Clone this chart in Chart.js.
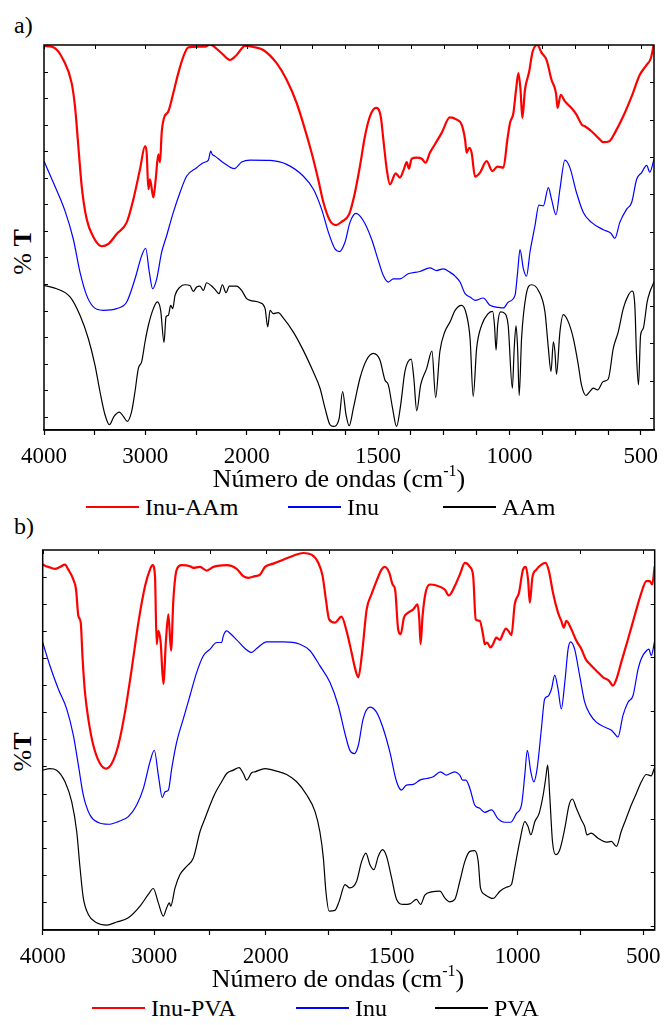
<!DOCTYPE html>
<html>
<head>
<meta charset="utf-8">
<script src="https://cdn.jsdelivr.net/npm/chart.js@4.4.1/dist/chart.umd.min.js"></script>
<style>
  body { margin: 0; width: 664px; height: 1025px; background: #fff; position: relative; overflow: hidden;
         font-family: "Liberation Serif", "Times New Roman", serif; color: #000; }
  .panel { position: absolute; left: 0; width: 664px; height: 470px; }
  .txt { position: absolute; white-space: nowrap; line-height: 1; }
  .ylab { position: absolute; white-space: nowrap; line-height: 1; font-size: 26px; transform: translate(-50%, -50%) rotate(-90deg); }
  .xlab { position: absolute; white-space: nowrap; line-height: 1; font-size: 26px; transform: translateX(-50%); }
  .xlab sup { font-size: 16px; vertical-align: 11px; line-height: 0; }
  .leg { position: absolute; display: flex; align-items: center; font-size: 24px; line-height: 1; white-space: nowrap; }
  .leg .ln { display: inline-block; width: 53px; margin-right: 6px; }
</style>
</head>
<body>

<div class="txt" style="left:14px; top:13px; font-size:24px;">a)</div>
<div class="ylab" style="left:23px; top:252px;">% <b>T</b></div>
<div class="panel" style="top:0;"><canvas id="grafico-a"></canvas></div>
<div class="xlab" style="left:339px; top:466px;">Número de ondas (cm<sup>-1</sup>)</div>
<div id="leyenda-a"></div>

<div class="txt" style="left:14px; top:514px; font-size:24px;">b)</div>
<div class="ylab" style="left:23px; top:752px;">%<b>T</b></div>
<div class="panel" style="top:500px;"><canvas id="grafico-b"></canvas></div>
<div class="xlab" style="left:338px; top:966px;">Número de ondas (cm<sup>-1</sup>)</div>
<div id="leyenda-b"></div>

<script>
// ---- espectros FTIR: [numero de onda, %T (u.a.)] ----
const aInuAAm = [
  [4000,386],[3908,384.7],[3809,372],[3727,348.7],[3694,325],[3661,285],[3628,245],[3579,212],[3513,194],
  [3431,184.7],[3365,187],[3283,197],[3184,208.7],[3118,232],[3053,262],[3003,285.3],[2987,278.7],[2970,242],
  [2954,252],[2921,233.7],[2898,252],[2872,277],[2855,269.3],[2839,298.7],[2816,313.7],[2773,320.3],[2724,338.7],
  [2675,358.7],[2625,375.3],[2576,384.7],[2461,385.3],[2411,385.3],[2362,387.7],[2313,384.7],[2247,378.7],
  [2165,372],[2099,377],[2017,386],[1975,385],[1937,382],[1886,368.7],[1848,352],[1810,328.7],[1778,302],
  [1753,278.7],[1728,252],[1708,228.7],[1683,210.3],[1660,206],[1639,209.3],[1610,217],[1588,238.7],[1569,265.3],
  [1550,295.3],[1531,315.3],[1508,323.7],[1490,315.3],[1480,292],[1467,262],[1455,247],[1433,258],[1417,253.7],
  [1402,262],[1391,269.3],[1383,262.7],[1372,272.7],[1353,273.7],[1334,272.7],[1319,268.7],[1303,278.7],
  [1284,287],[1258,298.7],[1227,314.3],[1201,312],[1182,307],[1169,292],[1163,278.7],[1153,283.7],[1144,278.7],
  [1131,254.7],[1112,258.7],[1087,270.3],[1065,260.3],[1046,264.7],[1023,263.7],[1008,292],[998,308.7],
  [985,318.7],[975,342],[966,358.7],[958,342],[951,313.7],[941,342],[925,360.3],[912,380.3],[894,387],
  [878,379.3],[859,372],[840,352],[823,338.7],[817,323.7],[805,337],[789,330.3],[764,323.7],[745,317],
  [725,307],[713,305.3],[688,300.3],[662,293.7],[643,289.3],[620,290.3],[599,298.7],[567,315.3],[535,335.3],
  [504,357],[478,367],[462,373.7],[450,388.7]
];
const aInu = [
  [4000,270.3],[3908,248.7],[3793,220.3],[3711,192],[3645,158.7],[3579,135.3],[3513,123.7],[3415,120.3],
  [3283,122],[3184,128.7],[3102,152],[3036,175.3],[2997,182.7],[2961,158.7],[2928,142],[2888,152],[2839,178.7],
  [2790,195.3],[2724,218.7],[2658,238.7],[2592,255.3],[2494,263.7],[2428,268.7],[2378,271.3],[2355,280.3],
  [2340,277],[2313,275.3],[2230,268.7],[2122,262.7],[2050,269.3],[1987,271.3],[1911,271],[1848,267],
  [1785,255.3],[1746,242],[1715,222],[1689,198.7],[1664,182],[1648,179.3],[1626,188.7],[1607,208.7],
  [1584,217.7],[1556,210.3],[1525,192],[1499,170.3],[1480,155.3],[1461,148.7],[1442,152],[1417,152],
  [1385,157],[1341,159.3],[1303,163],[1277,160.3],[1252,162],[1227,158.7],[1207,154.7],[1188,148.7],
  [1169,137],[1150,133.7],[1131,130.3],[1100,132.7],[1074,125.3],[1042,123.3],[1023,122.7],[1004,128.7],
  [979,135.3],[969,158.7],[960,181.3],[947,162],[935,154.7],[922,178.7],[903,205.3],[888,226],[871,225.3],
  [852,243.7],[840,232],[823,216.3],[808,242],[789,271.3],[770,263.7],[745,238.7],[719,218.7],[688,208.7],
  [643,201.3],[614,197.7],[599,192.7],[580,208.7],[554,222],[535,228.7],[516,252],[497,258.7],[478,266],
  [466,259.3],[450,272]
];
const aAAm = [
  [4000,145.3],[3875,142],[3743,133.7],[3645,115.3],[3563,92],[3497,65.3],[3448,38.7],[3398,15.3],[3355,5.3],
  [3309,13.7],[3257,18],[3217,13.7],[3178,8.7],[3135,18.7],[3102,38.7],[3069,62],[3036,68.7],[3003,88.7],
  [2970,105.3],[2921,122],[2882,128.7],[2849,120.3],[2816,88],[2796,113.7],[2773,115.3],[2750,125.3],
  [2730,122],[2707,135.3],[2658,143.7],[2609,146],[2560,145.3],[2527,139.3],[2494,143.7],[2461,144.7],
  [2428,140.3],[2395,148],[2346,144.7],[2313,141.3],[2273,137],[2240,146],[2204,138],[2171,144.7],
  [2099,144.7],[2050,140.3],[2000,132],[1987,130.3],[1949,128],[1930,122],[1920,103.7],[1911,120.3],
  [1899,117],[1880,118],[1861,112.7],[1823,98.7],[1785,80.3],[1747,58.7],[1721,42],[1702,22],[1683,5.3],
  [1670,3.7],[1648,12],[1635,38.7],[1622,15.3],[1610,4.3],[1594,22],[1569,52],[1544,70.3],[1518,77],
  [1493,70.3],[1474,50.3],[1461,45.3],[1445,22],[1430,3.7],[1414,25.3],[1398,58.7],[1374,71.3],[1364,52],
  [1353,19.3],[1338,45.3],[1315,62],[1295,79.3],[1281,32.7],[1265,78.7],[1246,98.7],[1226,108.7],
  [1207,120.3],[1182,125.3],[1163,115.3],[1150,92],[1138,33.7],[1125,82],[1106,105.3],[1081,117],
  [1064,119.3],[1057,105.3],[1051,80.3],[1045,105.3],[1034,118.7],[1017,117],[1005,105.3],[989,42],
  [982,82],[975,104.7],[969,82],[963,34.7],[954,92],[937,135.3],[916,146],[890,140.3],[865,118.7],
  [852,82],[842,58.7],[833,88.7],[827,78.7],[821,56],[808,98.7],[795,116],[776,108.7],[757,92],[738,65.3],
  [726,45.3],[709,34.7],[694,38.7],[681,42],[665,40.3],[643,48.7],[624,51.3],[605,82],[586,98.7],[567,122],
  [548,135.3],[533,139.7],[523,125.3],[516,72],[509,45.3],[501,95.3],[491,102],[476,128.7],[466,138.7],
  [450,148.7]
];

const bInuPVA = [
  [4000,367.3],[3950,365],[3890,363],[3845,365],[3800,367.3],[3770,362.3],[3725,352.3],[3701,342.3],
  [3680,315.7],[3659,309],[3642,272.3],[3621,239],[3591,212.3],[3546,185.7],[3486,167.3],[3432,162.3],
  [3381,167.3],[3322,185.7],[3262,219],[3202,262.3],[3142,309],[3082,345.7],[3038,362.3],[3014,366.7],
  [2993,355.7],[2978,287.3],[2963,300.7],[2942,289],[2918,247.3],[2894,292.3],[2873,317.3],[2849,280.7],
  [2828,332.3],[2798,362.3],[2754,366.7],[2679,365.7],[2649,364],[2589,365],[2529,361.3],[2469,365],
  [2350,366.7],[2260,363],[2201,355.7],[2156,354],[2096,355.7],[2051,357.3],[2006,365],[1970,368.3],
  [1930,372.3],[1890,376.3],[1851,379],[1818,377.3],[1791,369],[1774,355.7],[1761,332.3],[1748,312.3],
  [1725,309],[1699,315],[1679,300.7],[1659,279],[1646,264],[1632,254],[1617,279],[1599,322.3],[1580,337.3],
  [1560,350.7],[1540,362.3],[1527,365],[1509,359],[1496,347.3],[1486,342.3],[1474,302.3],[1464,297.3],
  [1451,314],[1434,319],[1414,322.3],[1397,327.3],[1390,312.3],[1385,287.3],[1377,315.7],[1365,339],
  [1348,347.3],[1322,346.3],[1289,342.3],[1273,336.3],[1249,345.7],[1229,357.3],[1209,369],[1189,365],
  [1176,355.7],[1166,312.3],[1150,310.7],[1136,295.7],[1130,287.3],[1121,289],[1107,284],[1097,287.3],
  [1084,294],[1070,291.7],[1057,298.3],[1047,303],[1036,300.7],[1024,296.3],[1011,327.3],[994,339],
  [978,362.3],[967,365],[958,352.3],[951,329],[941,354],[925,362.3],[905,367.3],[889,369],[875,360.7],
  [859,339],[839,319],[826,310.7],[816,304],[806,310.7],[786,302.3],[766,290.7],[746,282.3],[729,272.3],
  [713,267.3],[687,260.7],[660,254],[637,250.7],[621,245.7],[607,252.3],[588,269],[561,292.3],[535,315.7],
  [508,339],[488,350.7],[475,350.7],[465,347.3],[455,365.7]
];
const bInu = [
  [4000,289],[3935,265.7],[3860,242.3],[3785,222.3],[3725,195.7],[3680,165.7],[3636,135.7],[3576,115.7],
  [3501,108],[3411,106.3],[3322,109],[3232,114],[3157,125.7],[3097,142.3],[3038,169],[2999,180.7],
  [2963,155.7],[2927,133],[2903,139],[2873,140.7],[2843,162.3],[2798,189],[2739,212.3],[2679,235.7],
  [2619,259],[2559,275.7],[2499,282.3],[2440,289],[2395,289],[2380,295.7],[2350,300.7],[2320,298.3],
  [2260,291.7],[2186,283],[2126,279],[2081,283],[1996,289.7],[1930,289.7],[1864,287.3],[1824,280.7],
  [1785,265.7],[1745,249],[1712,225.7],[1685,197.3],[1666,180.7],[1648,177.3],[1632,185.7],[1613,212.3],
  [1586,224],[1560,219],[1533,202.3],[1507,179],[1480,149],[1461,140.7],[1441,145.7],[1414,146.3],
  [1388,150.7],[1361,152.3],[1335,154],[1306,159],[1282,155.7],[1262,158],[1249,159],[1229,155.7],
  [1218,150.7],[1205,150.7],[1189,142.3],[1170,125.7],[1150,122.3],[1130,118.3],[1103,120.7],[1077,111.7],
  [1051,108.3],[1027,108.3],[1004,117.3],[984,125.7],[971,155.7],[961,180.7],[947,159],[935,149],[922,162.3],
  [905,202.3],[892,232.3],[879,235],[865,242.3],[852,256.3],[839,242.3],[826,222.3],[812,249],[799,282.3],
  [789,289.7],[773,282.3],[753,255.7],[733,229],[713,217.3],[687,209],[654,204],[627,200.7],[614,197.3],
  [601,194],[581,215.7],[561,229],[541,235.7],[521,262.3],[508,273],[488,280.7],[478,282.3],[469,275.7],
  [455,290.7]
];
const bPVA = [
  [4000,160.7],[3935,162.3],[3875,160.7],[3800,149],[3740,129],[3695,99],[3665,62.3],[3636,32.3],
  [3591,15.7],[3516,7.3],[3426,5],[3337,8],[3232,12.3],[3127,24],[3053,35.7],[3008,41.7],[2963,27.3],
  [2918,14],[2888,22.3],[2864,27.3],[2852,24],[2813,42.3],[2769,55.7],[2709,64],[2649,72.3],[2589,99],
  [2544,112.3],[2499,125.7],[2455,137.3],[2395,149],[2350,157.3],[2290,160.7],[2239,163.3],[2201,157.3],
  [2170,150.7],[2126,158],[2096,159],[2006,162.3],[1957,159.7],[1917,156.3],[1877,149],[1837,135.7],
  [1804,119],[1785,99],[1771,72.3],[1761,39],[1748,19],[1725,19.7],[1708,29],[1685,45.7],[1666,42.3],
  [1639,49],[1619,69],[1602,77.3],[1586,65.7],[1570,60.7],[1553,74],[1536,80.7],[1520,74],[1500,52.3],
  [1480,30.7],[1454,25.7],[1427,26.3],[1401,30.7],[1385,25.7],[1368,35],[1341,38.3],[1308,39],[1289,32.3],
  [1269,28.3],[1249,30.7],[1229,49],[1209,69],[1189,79],[1170,79.7],[1156,69],[1147,42.3],[1130,35.7],
  [1097,31.7],[1070,39],[1044,43],[1024,45.7],[1011,62.3],[991,89],[971,109],[958,104],[947,95.7],
  [931,109],[914,117.3],[898,135.7],[888,152.3],[880,165.7],[872,135.7],[861,89],[848,75.7],[832,80.7],
  [812,102.3],[795,125.7],[782,131.7],[766,122.3],[746,110.7],[733,104],[724,95.7],[707,97.3],[680,92.3],
  [647,88.3],[627,89],[607,84],[588,99],[568,112.3],[548,125.7],[528,137.3],[508,149],[488,156.3],
  [469,155],[457,162.3]
];

// ---- ejes ----
const ticksA = [4000, 3500, 3000, 2500, 2000, 1875, 1750, 1625, 1500, 1375, 1250, 1125, 1000, 875, 750, 625, 500];
const ticksB = [4000, 3500, 3000, 2500, 2000, 1750, 1500, 1250, 1000, 750, 500];
const etiquetasX = [4000, 3000, 2000, 1500, 1000, 500];

const seriesA = [
  { label: "Inu-AAm", data: aInuAAm, color: "#ff0000", width: 2.2 },
  { label: "Inu", data: aInu, color: "#0000ff", width: 1.2 },
  { label: "AAm", data: aAAm, color: "#000000", width: 1.2 }
];
const seriesB = [
  { label: "Inu-PVA", data: bInuPVA, color: "#ff0000", width: 2.2 },
  { label: "Inu", data: bInu, color: "#0000ff", width: 1.2 },
  { label: "PVA", data: bPVA, color: "#000000", width: 1.2 }
];

// Escala con cambio de compresion en 2000 cm-1 (tipico de espectros IR)
class EscalaIR extends Chart.LinearScale {
  getPixelForValue(value) {
    const brk = this.options.breakAt, f = this.options.breakFrac;
    let u;
    if (value >= brk) u = f * (this.max - value) / (this.max - brk);
    else u = f + (1 - f) * (brk - value) / (brk - this.min);
    return this.left + u * this.width;
  }
  getValueForPixel(pixel) {
    const brk = this.options.breakAt, f = this.options.breakFrac;
    const u = (pixel - this.left) / this.width;
    if (u <= f) return this.max - (u / f) * (this.max - brk);
    return brk - ((u - f) / (1 - f)) * (brk - this.min);
  }
}
EscalaIR.id = "ir";
EscalaIR.defaults = Chart.LinearScale.defaults;
Chart.register(EscalaIR);

// Marco completo con marcas interiores arriba, izquierda y derecha
const marco = {
  id: "marco",
  afterDatasetsDraw(chart, args, opts) {
    const { ctx, chartArea: a, scales } = chart;
    const x = scales.x, y = scales.y;
    ctx.save();
    ctx.strokeStyle = "#000";
    ctx.lineWidth = 1.5;
    ctx.strokeRect(a.left, a.top, a.right - a.left, a.bottom - a.top);
    ctx.lineWidth = 1;
    ctx.beginPath();
    x.ticks.forEach(t => {
      const px = Math.round(x.getPixelForValue(t.value)) + 0.5;
      ctx.moveTo(px, a.top); ctx.lineTo(px, a.top + 4);
    });
    for (let v = y.max - opts.pasoIzq; v > y.min; v -= opts.pasoIzq) {
      const py = Math.round(y.getPixelForValue(v)) + 0.5;
      ctx.moveTo(a.left, py); ctx.lineTo(a.left + 4, py);
    }
    for (let v = y.max - opts.pasoDer; v > y.min; v -= opts.pasoDer) {
      const py = Math.round(y.getPixelForValue(v)) + 0.5;
      ctx.moveTo(a.right, py); ctx.lineTo(a.right - 4, py);
    }
    ctx.stroke();
    ctx.restore();
  }
};

function crearGrafico(id, series, cfg) {
  new Chart(document.getElementById(id), {
    type: "line",
    data: {
      datasets: series.map(s => ({
        label: s.label,
        data: s.data,
        borderColor: s.color,
        borderWidth: s.width,
        pointRadius: 0,
        fill: false,
        cubicInterpolationMode: "monotone"
      }))
    },
    options: {
      responsive: true,
      maintainAspectRatio: false,
      animation: false,
      devicePixelRatio: 1,
      layout: { padding: { top: cfg.top, right: cfg.right, left: 0, bottom: 0 } },
      plugins: { legend: { display: false }, tooltip: { enabled: false }, marco: cfg.marco },
      scales: {
        x: {
          type: "ir",
          min: cfg.min,
          max: 4000,
          breakAt: 2000,
          breakFrac: cfg.frac,
          afterBuildTicks: s => { s.ticks = cfg.ticks.map(v => ({ value: v })); },
          afterFit: s => { s.height = cfg.xHeight; s.paddingLeft = 0; s.paddingRight = 0; },
          ticks: {
            autoSkip: false,
            maxRotation: 0,
            padding: 8,
            color: "#000",
            font: { family: "Liberation Serif", size: 23 },
            callback: v => etiquetasX.includes(v) ? String(v) : ""
          },
          grid: { drawOnChartArea: false, drawTicks: true, tickLength: 5, tickWidth: 1.2, tickColor: "#000" },
          border: { display: true, color: "#000", width: 1.5 }
        },
        y: {
          min: 0,
          max: cfg.yMax,
          ticks: { display: false },
          grid: { display: false },
          border: { display: false },
          afterFit: s => { s.width = cfg.left; s.paddingTop = 0; s.paddingBottom = 0; }
        }
      }
    },
    plugins: [marco]
  });
}

function crearLeyenda(id, series, pos) {
  const cont = document.getElementById(id);
  cont.innerHTML = series.map((s, i) => `
    <div class="leg" style="left:${pos.x[i]}px; top:${pos.top}px;">
      <span class="ln" style="height:${s.width > 2 ? 2 : 1.5}px; background:${s.color}"></span>
      <span>${s.label}</span>
    </div>
  `).join("");
}

crearGrafico("grafico-a", seriesA, {
  top: 45, right: 10, left: 44, xHeight: 40, min: 450, frac: 0.3323, yMax: 387, ticks: ticksA,
  marco: { pasoIzq: 26.7, pasoDer: 37.5 }
});
crearGrafico("grafico-b", seriesB, {
  top: 50, right: 9.3, left: 42.7, xHeight: 40, min: 455, frac: 0.3644, yMax: 382, ticks: ticksB,
  marco: { pasoIzq: 27.2, pasoDer: 54 }
});

crearLeyenda("leyenda-a", seriesA, { top: 495, x: [86, 288, 443] });
crearLeyenda("leyenda-b", seriesB, { top: 996, x: [92, 296, 435] });
</script>
</body>
</html>
